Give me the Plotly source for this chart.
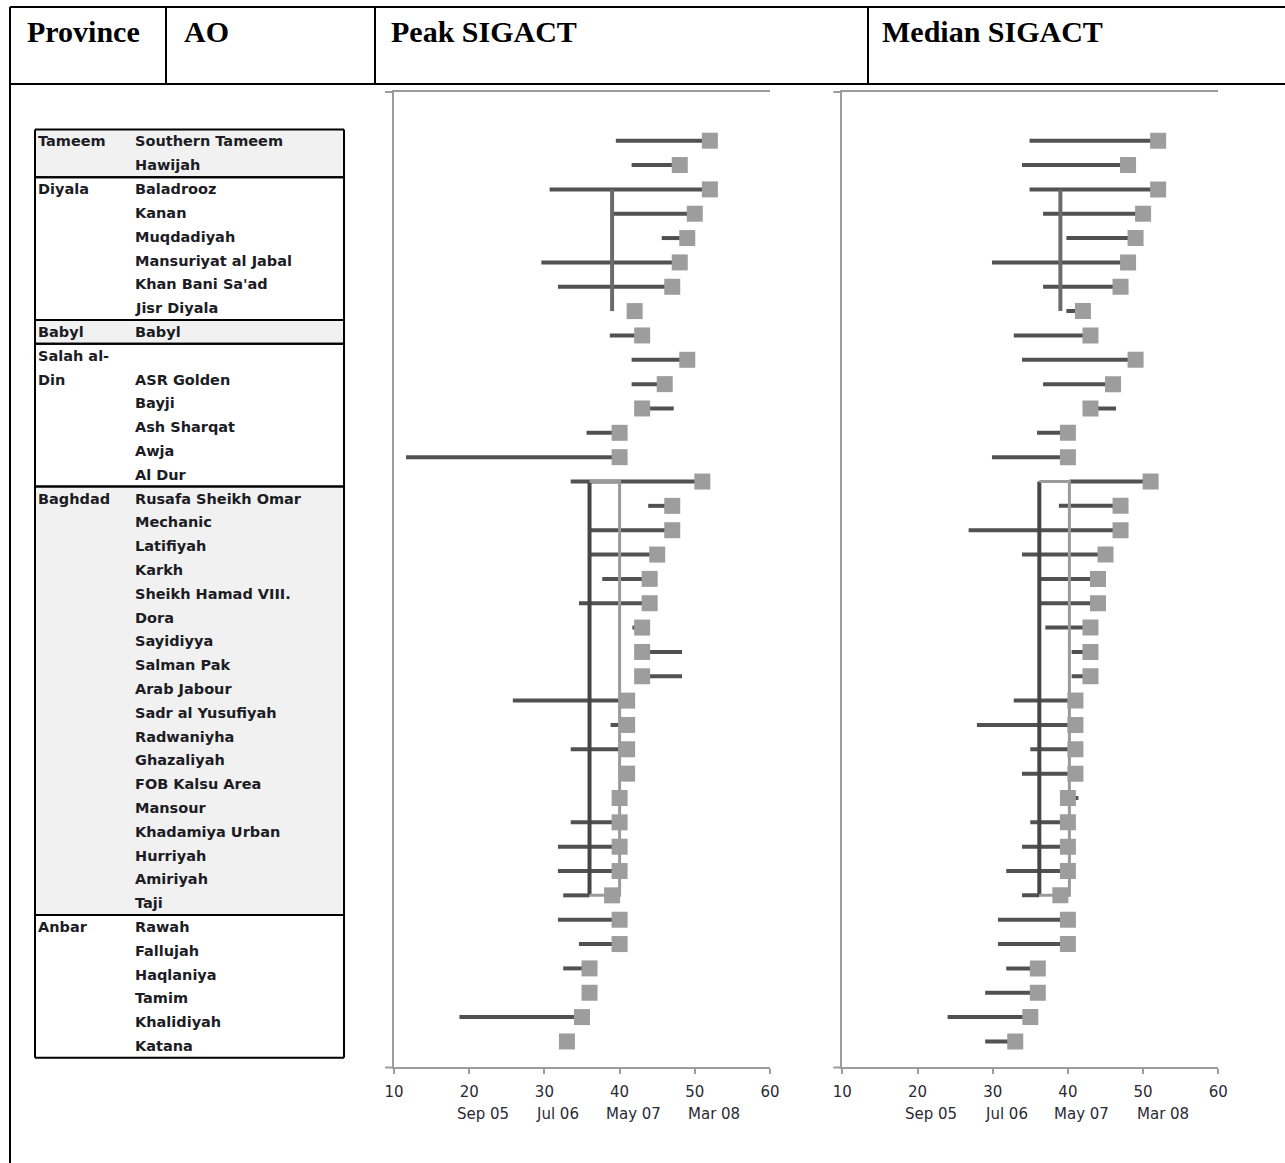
import plotly.graph_objects as go

# ---------------- DATA ----------------
ao_rows = ["Southern Tameem", "Hawijah", "Baladrooz", "Kanan", "Muqdadiyah",
           "Mansuriyat al Jabal", "Khan Bani Sa'ad", "Jisr Diyala", "Babyl",
           "ASR Golden", "Bayji", "Ash Sharqat", "Awja", "Al Dur",
           "Rusafa Sheikh Omar", "Mechanic", "Latifiyah", "Karkh",
           "Sheikh Hamad VIII.", "Dora", "Sayidiyya", "Salman Pak", "Arab Jabour",
           "Sadr al Yusufiyah", "Radwaniyha", "Ghazaliyah", "FOB Kalsu Area",
           "Mansour", "Khadamiya Urban", "Hurriyah", "Amiriyah", "Taji",
           "Rawah", "Fallujah", "Haqlaniya", "Tamim", "Khalidiyah", "Katana"]
province_of_row = (["Tameem"] * 2 + ["Diyala"] * 6 + ["Babyl"] + ["Salah al-Din"] * 5
                   + ["Baghdad"] * 18 + ["Anbar"] * 6)

peak_start = [39.5, 41.6, 30.7, 39.0, 45.6, 29.6, 31.8, 42.0, 38.7, 41.6, 41.6, 43.0, 35.6, 11.6,
              33.5, 43.8, 36.0, 36.0, 37.7, 34.6, 41.7, 43.0, 43.0, 25.8, 38.8, 33.5, 41.0, 40.0,
              33.5, 31.8, 31.8, 32.5, 31.8, 34.6, 32.5, 36.0, 18.7, 33.0]
peak_end = [52, 48, 52, 50, 49, 48, 47, 42, 43, 49, 46, 47.2, 40, 40,
            51, 47, 47, 45, 44, 44, 43, 48.3, 48.3, 41, 41, 41, 41, 40,
            40, 40, 40, 36, 40, 40, 36, 36, 35, 33]
peak_value = [52, 48, 52, 50, 49, 48, 47, 42, 43, 49, 46, 43, 40, 40,
              51, 47, 47, 45, 44, 44, 43, 43, 43, 41, 41, 41, 41, 40,
              40, 40, 40, 39, 40, 40, 36, 36, 35, 33]

median_start = [34.9, 33.9, 34.9, 36.7, 39.8, 29.9, 36.7, 39.8, 32.8, 33.9, 36.7, 43.0, 35.9, 29.9,
                40.2, 38.8, 26.8, 33.9, 36.2, 36.2, 37.0, 40.5, 40.5, 32.8, 27.9, 35.0, 33.9, 40.0,
                35.0, 33.9, 31.8, 33.9, 30.7, 30.7, 31.8, 29.0, 24.0, 29.0]
median_end = [52, 48, 52, 50, 49, 48, 47, 42, 43, 49, 46, 46.4, 40, 40,
              51, 47, 47, 45, 44, 44, 43, 43, 43, 41, 41, 41, 41, 41.4,
              40, 40, 40, 36.2, 40, 40, 36, 36, 35, 33]
median_value = [52, 48, 52, 50, 49, 48, 47, 42, 43, 49, 46, 43, 40, 40,
                51, 47, 47, 45, 44, 44, 43, 43, 43, 41, 41, 41, 41, 40,
                40, 40, 40, 39, 40, 40, 36, 36, 35, 33]

# province reference lines (Diyala single line, Baghdad pair)
peak_diyala_ref = 39.0
peak_baghdad_refs = [36.0, 40.0]
median_diyala_ref = 39.0
median_baghdad_refs = [36.2, 40.2]

tick_values = [10, 20, 30, 40, 50, 60]
date_labels = ["Sep 05", "Jul 06", "May 07", "Mar 08"]
date_label_pos = [21.8, 31.8, 41.8, 52.6]

header_cells = ["Province", "AO", "Peak SIGACT", "Median SIGACT"]

table_province_text = ["Tameem", "", "Diyala", "", "", "", "", "", "Babyl", "Salah al-", "Din",
                       "", "", "", "", "Baghdad"] + [""] * 17 + ["Anbar"] + [""] * 5
table_ao_text = ["Southern Tameem", "Hawijah", "Baladrooz", "Kanan", "Muqdadiyah",
                 "Mansuriyat al Jabal", "Khan Bani Sa'ad", "Jisr Diyala", "Babyl", "",
                 "ASR Golden", "Bayji", "Ash Sharqat", "Awja", "Al Dur",
                 "Rusafa Sheikh Omar", "Mechanic", "Latifiyah", "Karkh",
                 "Sheikh Hamad VIII.", "Dora", "Sayidiyya", "Salman Pak", "Arab Jabour",
                 "Sadr al Yusufiyah", "Radwaniyha", "Ghazaliyah", "FOB Kalsu Area",
                 "Mansour", "Khadamiya Urban", "Hurriyah", "Amiriyah", "Taji",
                 "Rawah", "Fallujah", "Haqlaniya", "Tamim", "Khalidiyah", "Katana"]
table_group = (["Tameem"] * 2 + ["Diyala"] * 6 + ["Babyl"] + ["Salah al-Din"] * 6
               + ["Baghdad"] * 18 + ["Anbar"] * 6)
shaded_groups = ["Tameem", "Babyl", "Baghdad"]

# ---------------- LAYOUT HELPERS ----------------
W, H = 1285, 1163


def px(x):
    return x / W


def py(y):
    return 1 - y / H


DARK = "#515151"
MID = "#6b6b6b"
LIGHT = "#9a9a9a"
SQUARE = "#9d9d9d"
AXIS = "#9c9c9c"

fig = go.Figure()
n = len(ao_rows)


def add_chart(start, end, value, diyala_ref, bag_refs, xa, ya):
    xs, ys = [], []
    for r in range(n):
        if end[r] > start[r]:
            xs += [start[r], end[r], None]
            ys += [r, r, None]
    fig.add_trace(go.Scatter(x=xs, y=ys, mode="lines", line=dict(color=DARK, width=4),
                             xaxis=xa, yaxis=ya, showlegend=False, hoverinfo="skip"))
    d_rows = [r for r in range(n) if province_of_row[r] == "Diyala"]
    fig.add_trace(go.Scatter(x=[diyala_ref, diyala_ref], y=[d_rows[0], d_rows[-1]], mode="lines",
                             line=dict(color=MID, width=4), xaxis=xa, yaxis=ya,
                             showlegend=False, hoverinfo="skip"))
    b_rows = [r for r in range(n) if province_of_row[r] == "Baghdad"]
    fig.add_trace(go.Scatter(x=[bag_refs[0], bag_refs[0]], y=[b_rows[0], b_rows[-1]], mode="lines",
                             line=dict(color="#454545", width=4), xaxis=xa, yaxis=ya,
                             showlegend=False, hoverinfo="skip"))
    fig.add_trace(go.Scatter(x=[bag_refs[0], bag_refs[1], bag_refs[1], bag_refs[0]],
                             y=[b_rows[0], b_rows[0], b_rows[-1], b_rows[-1]], mode="lines",
                             line=dict(color=LIGHT, width=3), xaxis=xa, yaxis=ya,
                             showlegend=False, hoverinfo="skip"))
    fig.add_trace(go.Scatter(x=value, y=list(range(n)), mode="markers",
                             marker=dict(symbol="square", size=16, color=SQUARE, line=dict(width=0)),
                             xaxis=xa, yaxis=ya, showlegend=False, text=ao_rows))


add_chart(peak_start, peak_end, peak_value, peak_diyala_ref, peak_baghdad_refs, "x", "y")
add_chart(median_start, median_end, median_value, median_diyala_ref, median_baghdad_refs, "x2", "y2")

ydom = [py(1067), py(92)]
xcommon = dict(range=[10, 60], tickvals=tick_values, showline=True, linecolor=AXIS, linewidth=2,
               mirror=True, ticks="outside", ticklen=5, tickwidth=2, tickcolor=AXIS,
               showgrid=False, zeroline=False, ticklabelstandoff=5, automargin=False,
               tickfont=dict(family="DejaVu Sans", size=15, color="#2a2a35"))
ycommon = dict(range=[38.05, -2.0], showline=True, linecolor=AXIS, linewidth=2,
               showticklabels=False, ticks="", showgrid=False, zeroline=False, domain=ydom,
               automargin=False)

fig.update_layout(
    width=W, height=H, autosize=False,
    margin=dict(l=0, r=0, t=0, b=0, pad=0, autoexpand=False),
    paper_bgcolor="white", plot_bgcolor="white",
    xaxis=dict(domain=[px(394), px(770)], anchor="y", **xcommon),
    yaxis=dict(anchor="x", **ycommon),
    xaxis2=dict(domain=[px(842.3), px(1218.3)], anchor="y2", **xcommon),
    yaxis2=dict(anchor="x2", **ycommon),
)

shapes = []
annotations = []


def hline(x0, x1, y, color="black", width=2):
    shapes.append(dict(type="line", xref="paper", yref="paper", x0=px(x0), x1=px(x1),
                       y0=py(y), y1=py(y), line=dict(color=color, width=width)))


def vline(x, y0, y1, color="black", width=2):
    shapes.append(dict(type="line", xref="paper", yref="paper", x0=px(x), x1=px(x),
                       y0=py(y0), y1=py(y1), line=dict(color=color, width=width)))


# axis left extensions
for x_axis_left in (394, 842.3):
    hline(x_axis_left - 9, x_axis_left, 92, AXIS, 2)
    hline(x_axis_left - 9, x_axis_left, 1067.5, AXIS, 2)

# outer document table
hline(10, 1285, 7)
hline(10, 1285, 84)
vline(10, 7, 1163)
for xd in (166, 375, 868):
    vline(xd, 7, 84)
header_x = [25, 182, 389, 880]
for txt, hx in zip(header_cells, header_x):
    annotations.append(dict(xref="paper", yref="paper", x=px(hx), y=py(31), text="<b>%s</b>" % txt,
                            showarrow=False, xanchor="left", yanchor="middle",
                            font=dict(family="Liberation Serif", size=30, color="black")))

# left AO table
def line_y(k):
    return 141.5 + 23.8 * k


groups_order = []
for g in table_group:
    if g not in groups_order:
        groups_order.append(g)
for g in groups_order:
    ks = [k for k, gg in enumerate(table_group) if gg == g]
    y0, y1 = line_y(ks[0] - 0.5), line_y(ks[-1] + 0.5)
    if g in shaded_groups:
        shapes.append(dict(type="rect", xref="paper", yref="paper", x0=px(35), x1=px(344),
                           y0=py(y1), y1=py(y0), fillcolor="#f1f1f1", line=dict(width=0),
                           layer="below"))
    hline(35, 344, y0)
    hline(35, 344, y1)
vline(35, line_y(-0.5), line_y(len(table_group) - 0.5))
vline(344, line_y(-0.5), line_y(len(table_group) - 0.5))

tfont = dict(family="DejaVu Sans", size=14.5, color="#1c1c24")
for k, (pt, at) in enumerate(zip(table_province_text, table_ao_text)):
    if pt:
        annotations.append(dict(xref="paper", yref="paper", x=px(36), y=py(line_y(k)),
                                text="<b>%s</b>" % pt, showarrow=False, xanchor="left",
                                yanchor="middle", font=tfont))
    if at:
        annotations.append(dict(xref="paper", yref="paper", x=px(133), y=py(line_y(k)),
                                text="<b>%s</b>" % at, showarrow=False, xanchor="left",
                                yanchor="middle", font=tfont))

# date labels under axes
for xr in ("x", "x2"):
    for lab, pos in zip(date_labels, date_label_pos):
        annotations.append(dict(xref=xr, yref="paper", x=pos, y=py(1114), text=lab,
                                showarrow=False, xanchor="center", yanchor="middle",
                                font=dict(family="DejaVu Sans", size=15, color="#2a2a35")))

fig.update_layout(shapes=shapes, annotations=annotations)

fig.write_html("out.html", config={"displayModeBar": False},
               post_script="document.body.style.margin='0';document.body.style.overflow='hidden';")
